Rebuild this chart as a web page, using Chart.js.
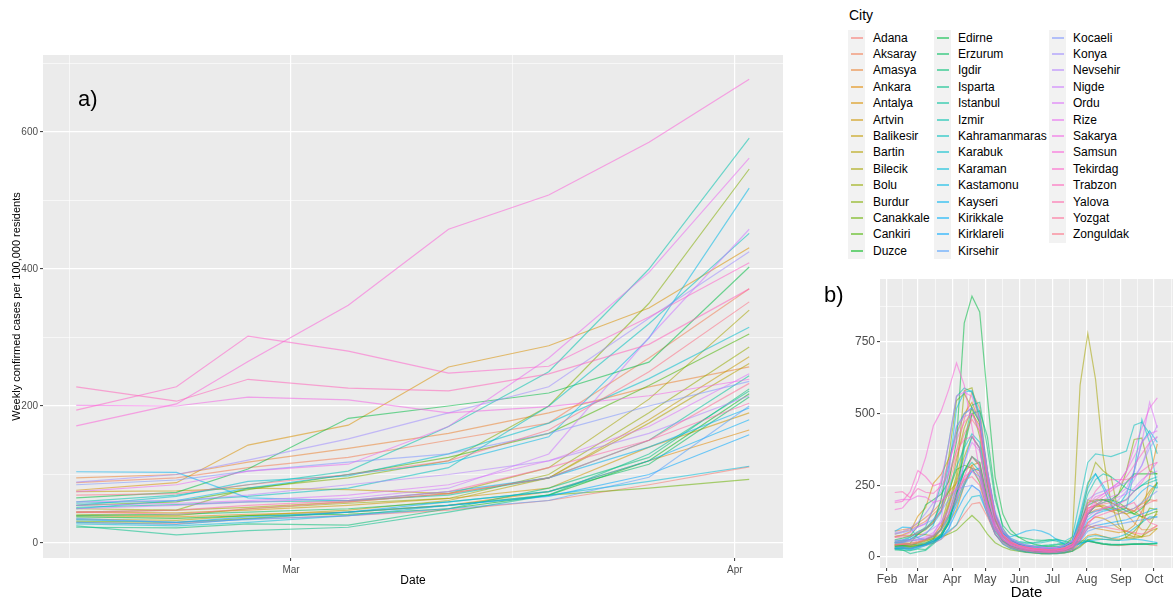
<!DOCTYPE html>
<html>
<head>
<meta charset="utf-8">
<script src="https://cdn.jsdelivr.net/npm/chart.js@4.4.0/dist/chart.umd.min.js"></script>
<style>
  html, body { margin:0; padding:0; background:#ffffff; }
  body { width:1176px; height:598px; position:relative; overflow:hidden; font-family:"Liberation Sans", Arial, sans-serif; }
  canvas { position:absolute; }
  .tag { position:absolute; font-size:22px; color:#000; line-height:1; }
  .lg { position:absolute; font-size:12px; color:#000; white-space:nowrap; }
  .key { position:absolute; background:#F2F2F2; }
  .key span { position:absolute; left:3px; right:2px; top:7px; height:2px; }
</style>
</head>
<body>
<canvas id="ca" width="790" height="598" style="left:0;top:0"></canvas>
<canvas id="cb" width="376" height="345" style="left:800px;top:260px"></canvas>
<div class="tag" style="left:78px;top:88px">a)</div>
<div class="tag" style="left:824px;top:284px">b)</div>
<div class="lg" style="left:849px;top:7px;font-size:14px">City</div>
<div id="legend"></div>
<script>
// ---------------- data ----------------
const cities = ["Adana","Aksaray","Amasya","Ankara","Antalya","Artvin","Balikesir","Bartin","Bilecik","Bolu","Burdur","Canakkale","Cankiri","Duzce","Edirne","Erzurum","Igdir","Isparta","Istanbul","Izmir","Kahramanmaras","Karabuk","Karaman","Kastamonu","Kayseri","Kirikkale","Kirklareli","Kirsehir","Kocaeli","Konya","Nevsehir","Nigde","Ordu","Rize","Sakarya","Samsun","Tekirdag","Trabzon","Yalova","Yozgat","Zonguldak"];

// day of year (Jan 1 = 0): Feb 14, Feb 21, Feb 26, Mar 5, Mar 12, Mar 19, Mar 26, Apr 2
const aDates = [44,51,56,63,70,77,84,91];
const aSeries = [
  [30,28,35,40,48,62,85,111],
  [88,95,110,125,150,175,270,371],
  [95,100,118,138,160,190,228,257],
  [40,38,42,45,55,75,120,165],
  [77,88,143,172,257,288,343,431],
  [45,44,48,55,65,80,140,190],
  [75,76,80,78,72,95,180,272],
  [35,33,40,48,62,95,175,262],
  [50,48,52,60,72,110,210,340],
  [42,40,50,58,65,100,190,286],
  [45,48,80,95,120,200,350,546],
  [32,30,36,45,55,70,80,93],
  [55,60,78,100,125,160,230,305],
  [38,36,40,42,50,70,120,218],
  [66,74,108,182,200,219,264,403],
  [40,42,45,50,60,75,115,213],
  [23,22,28,26,50,80,125,225],
  [25,12,18,23,45,70,130,222],
  [52,56,60,62,70,95,150,244],
  [60,70,85,105,170,250,400,591],
  [58,62,68,80,110,200,320,452],
  [55,68,90,98,130,175,240,315],
  [28,25,30,40,55,70,90,112],
  [50,62,80,100,117,155,299,518],
  [104,103,66,62,75,95,140,197],
  [30,27,35,45,60,75,120,180],
  [34,30,38,45,55,68,100,158],
  [36,30,34,40,50,62,96,200],
  [85,92,105,118,130,160,200,236],
  [89,100,121,152,190,228,328,425],
  [60,62,70,85,100,120,160,215],
  [50,55,60,65,80,130,300,458],
  [55,58,62,70,85,120,170,247],
  [75,85,105,115,170,270,395,562],
  [201,200,213,209,190,199,215,239],
  [171,203,265,347,458,508,585,677],
  [194,228,302,280,248,258,330,409],
  [228,207,239,226,222,247,290,371],
  [45,48,55,62,75,110,150,204],
  [45,42,50,60,72,95,150,233],
  [70,72,85,100,120,165,250,352]
];

// weekly, Feb 7 .. Oct 3 (day of year)
const bDates = [38,45,52,59,66,73,80,87,94,101,108,115,122,129,136,143,150,157,164,171,178,185,192,199,206,213,220,227,234,241,248,255,262,269,276];
const bSeries = [
  [28,30,28,35,40,48,62,85,111,150,185,190,140,80,45,30,22,18,15,14,13,14,16,22,40,55,50,45,42,40,42,45,48,42,40],
  [80,88,95,110,125,150,175,270,371,480,575,520,300,150,90,60,45,35,28,25,22,22,25,35,90,170,180,175,160,150,160,170,185,200,195],
  [90,95,100,118,138,160,190,228,257,300,320,280,170,100,65,45,35,28,22,20,18,20,22,30,70,150,165,170,175,165,150,120,95,95,110],
  [38,40,38,42,45,55,75,120,165,250,320,330,200,110,60,35,25,18,15,12,12,12,14,20,50,75,80,72,65,62,68,70,130,280,395],
  [70,77,88,143,172,257,288,343,431,500,540,470,280,140,80,55,42,35,30,28,26,28,35,50,95,110,100,95,90,85,90,110,160,220,260],
  [42,45,44,48,55,65,80,140,190,260,310,300,180,100,60,40,30,24,20,18,16,18,22,30,60,120,140,135,120,100,90,80,70,75,100],
  [72,75,76,80,78,72,95,180,272,400,500,460,260,130,70,45,35,28,22,18,16,18,22,35,110,200,190,170,160,165,170,160,140,130,150],
  [33,35,33,40,48,62,95,175,262,350,420,380,210,100,55,35,26,20,16,14,13,14,17,25,80,160,175,180,170,160,150,160,190,230,260],
  [45,50,48,52,60,72,110,210,340,450,520,470,300,150,80,50,35,25,20,18,18,22,35,70,600,780,620,350,190,110,80,70,72,90,100],
  [40,42,40,50,58,65,100,190,286,580,590,480,280,130,70,45,35,28,24,22,20,22,28,40,120,250,330,300,280,150,66,65,70,110,160],
  [42,45,48,80,95,120,200,350,546,570,520,420,250,130,75,50,40,32,28,25,24,25,30,45,110,190,200,200,190,220,300,410,415,300,290],
  [30,32,30,36,45,55,70,80,93,120,145,120,80,50,35,25,20,16,14,12,12,13,15,20,35,60,65,62,60,58,70,90,120,170,165],
  [50,55,60,78,100,125,160,230,305,320,310,260,160,90,55,40,32,26,22,20,18,20,24,35,80,150,180,200,200,190,170,150,140,150,160],
  [36,38,36,40,42,50,70,120,218,300,350,320,190,100,60,40,30,25,22,20,20,22,26,40,90,150,180,190,200,220,260,290,290,290,290],
  [60,66,74,108,182,200,219,264,403,816,910,855,558,279,150,95,70,55,45,40,38,35,40,55,120,180,195,200,190,175,160,150,170,200,260],
  [38,40,42,45,50,60,75,115,213,380,500,510,420,220,100,60,45,38,35,35,38,42,45,50,55,60,50,45,42,42,44,45,45,45,48],
  [25,23,22,28,26,50,80,125,225,400,530,540,380,200,110,80,70,65,60,58,60,62,55,45,50,55,50,45,42,42,43,45,44,45,46],
  [28,25,12,18,23,45,70,130,222,300,350,330,200,110,70,55,50,48,50,55,60,55,45,40,48,55,52,48,45,44,45,46,46,47,48],
  [50,52,56,60,62,70,95,150,244,300,330,300,180,100,70,55,45,40,38,40,42,45,50,60,100,150,160,165,170,190,200,230,250,260,270],
  [55,60,70,85,105,170,250,400,560,590,575,480,280,140,85,60,48,40,35,32,30,32,38,55,130,220,270,290,280,260,240,230,250,270,280],
  [55,58,62,68,80,110,200,320,452,500,520,470,290,150,90,65,55,50,48,50,55,60,55,70,200,330,360,355,350,360,370,460,470,430,360],
  [50,55,68,90,98,130,175,240,315,380,430,400,250,130,80,60,50,42,38,35,32,35,40,55,150,260,290,240,180,160,170,300,480,400,240],
  [30,28,25,30,40,55,70,90,112,170,210,215,150,80,45,30,22,17,14,12,11,12,14,20,40,70,75,70,65,70,80,100,120,140,140],
  [48,50,62,80,100,117,155,299,518,575,580,500,300,150,85,60,45,38,32,30,28,30,38,55,140,240,290,250,200,180,220,300,400,440,400],
  [90,104,103,66,62,75,95,140,197,330,420,380,230,120,80,70,80,90,95,90,80,60,45,40,45,55,60,62,60,58,60,62,60,55,50],
  [28,30,27,35,45,60,75,120,180,250,300,310,190,100,60,42,32,26,22,20,18,20,24,32,70,130,150,160,165,170,180,200,230,250,240],
  [32,34,30,38,45,55,68,100,158,210,250,230,150,80,50,35,26,20,17,15,14,15,18,26,60,100,110,115,120,125,130,140,150,160,170],
  [34,36,30,34,40,50,62,96,200,260,300,280,170,90,55,38,28,22,18,16,15,16,20,28,55,90,100,105,110,115,120,125,130,135,140],
  [80,85,92,105,118,130,160,200,236,245,250,230,160,100,70,50,40,34,30,28,26,28,32,40,70,110,120,130,140,150,160,170,190,210,230],
  [85,89,100,121,152,190,228,328,425,500,520,480,300,160,95,65,50,42,38,35,32,34,40,55,120,200,220,230,240,250,260,280,320,380,420],
  [58,60,62,70,85,100,120,160,215,270,310,290,180,100,65,45,35,30,26,24,22,24,28,38,80,140,160,170,180,200,230,270,320,400,460],
  [48,50,55,60,65,80,130,300,458,490,500,440,270,140,80,55,42,35,30,28,26,28,32,45,90,160,180,190,200,210,220,240,270,290,300],
  [52,55,58,62,70,85,120,170,247,330,400,370,220,110,65,45,35,28,24,22,20,22,26,38,80,150,180,200,210,220,240,300,400,540,450],
  [70,75,85,105,115,170,270,395,562,575,560,480,290,150,90,60,48,40,36,34,32,34,40,55,110,180,210,220,240,260,300,350,400,430,440],
  [195,201,200,213,209,190,199,215,239,280,300,270,170,95,60,42,32,26,22,20,18,20,25,38,90,160,200,220,240,260,300,380,450,520,555],
  [165,171,203,265,347,458,508,585,677,600,455,300,180,110,75,50,40,30,25,22,20,22,25,35,60,110,150,170,175,185,200,230,260,300,330],
  [190,194,228,302,280,248,258,330,409,470,500,450,280,140,80,55,42,35,30,28,26,28,32,45,90,150,190,210,230,250,280,320,360,400,420],
  [225,228,207,239,226,222,247,290,371,410,420,380,230,120,70,50,40,34,30,28,26,28,32,45,100,180,230,260,270,270,270,280,300,320,330],
  [42,45,48,55,62,75,110,150,204,280,350,320,190,100,60,42,32,26,22,20,18,20,24,35,70,120,140,150,160,170,180,190,150,120,110],
  [42,45,42,50,60,72,95,150,233,270,280,250,150,80,50,35,27,22,18,16,15,16,20,28,60,100,110,105,100,95,90,85,80,90,110],
  [68,70,72,85,100,120,165,250,352,430,480,440,260,130,75,50,40,33,28,26,24,26,30,42,90,170,180,185,190,180,170,160,175,190,200]
];

// tick definitions (day of year / values)
const aXMajor = [59,90];
const aXLabels = ["Mar","Apr"];
const aXMinor = [43.5,74.5];
const aYMajor = [0,200,400,600];
const aYLabels = ["0","200","400","600"];
const aYMinor = [100,300,500,700];
const bXMajor = [31,59,90,120,151,181,212,243,273];
const bXLabels = ["Feb","Mar","Apr","May","Jun","Jul","Aug","Sep","Oct"];
const bXMinor = [45,74.5,105,135.5,166,196.5,227.5,258,288.5];
const bYMajor = [0,250,500,750];
const bYLabels = ["0","250","500","750"];
const bYMinor = [125,375,625,875];

// ---------------- colours (ggplot2 hue palette) ----------------
function hcl(h, c, l) {
  const hr = h * Math.PI / 180;
  const U = c * Math.cos(hr), V = c * Math.sin(hr);
  const Y = l > 8 ? Math.pow((l + 16) / 116, 3) : l / 903.3;
  const un = 0.1978398, vn = 0.4683363;
  const u = U / (13 * l) + un, v = V / (13 * l) + vn;
  const X = 9 * Y * u / (4 * v);
  const Z = -X / 3 - 5 * Y + 3 * Y / v;
  const lin = [
    3.240479 * X - 1.537150 * Y - 0.498535 * Z,
    -0.969256 * X + 1.875992 * Y + 0.041556 * Z,
    0.055648 * X - 0.204043 * Y + 1.057311 * Z
  ];
  return lin.map(t => {
    const g = t > 0.0031308 ? 1.055 * Math.pow(t, 1 / 2.4) - 0.055 : 12.92 * t;
    return Math.round(255 * Math.min(1, Math.max(0, g)));
  });
}
const ALPHA = 0.55;
const colors = cities.map((_, i) => {
  const rgb = hcl(15 + i * 360 / cities.length, 100, 65);
  return `rgba(${rgb[0]},${rgb[1]},${rgb[2]},${ALPHA})`;
});

// ---------------- legend ----------------
(function buildLegend() {
  const lg = document.getElementById('legend');
  const colStart = [0, 14, 28];
  const keyX = [848, 934, 1049];
  const labX = [873, 958, 1073];
  const top0 = 29.5, step = 16.4;
  cities.forEach((name, i) => {
    const col = i < 14 ? 0 : (i < 28 ? 1 : 2);
    const row = i - colStart[col];
    const y = Math.round(top0 + row * step);
    const yn = Math.round(top0 + (row + 1) * step);
    const k = document.createElement('div');
    k.className = 'key';
    k.style.left = keyX[col] + 'px';
    k.style.top = y + 'px';
    k.style.width = '17px';
    k.style.height = (yn - y) + 'px';
    const s = document.createElement('span');
    s.style.background = colors[i];
    k.appendChild(s);
    lg.appendChild(k);
    const t = document.createElement('div');
    t.className = 'lg';
    t.style.left = labX[col] + 'px';
    t.style.top = y + 'px';
    t.style.lineHeight = (yn - y) + 'px';
    t.textContent = name;
    lg.appendChild(t);
  });
})();

// ---------------- charts ----------------
const FONT = '"Liberation Sans", Arial, sans-serif';
const panelBg = {
  id: 'panelBg',
  beforeDraw(chart) {
    const { ctx, chartArea: a } = chart;
    ctx.save();
    ctx.fillStyle = '#EBEBEB';
    ctx.fillRect(a.left, a.top, a.right - a.left, a.bottom - a.top);
    ctx.restore();
  }
};

function axis(cfg) {
  const all = cfg.major.concat(cfg.minor).sort((p, q) => p - q);
  const isMajor = c => c && c.tick && cfg.major.indexOf(c.tick.value) >= 0;
  return {
    type: 'linear',
    min: cfg.min, max: cfg.max,
    afterBuildTicks: s => { s.ticks = all.map(v => ({ value: v })); },
    afterFit: s => { if (cfg.horizontal) s.height = cfg.size; else s.width = cfg.size; },
    ticks: {
      autoSkip: false, maxRotation: 0, minRotation: 0, padding: cfg.pad,
      color: '#4D4D4D', font: { family: FONT, size: cfg.fs },
      callback: v => { const k = cfg.major.indexOf(v); return k < 0 ? '' : cfg.labels[k]; }
    },
    grid: {
      color: '#FFFFFF',
      lineWidth: c => isMajor(c) ? 1.2 : 0.6,
      drawTicks: true, tickLength: 3, tickWidth: 1,
      tickColor: c => isMajor(c) ? '#333333' : 'rgba(0,0,0,0)'
    },
    border: { display: false },
    title: cfg.title ? {
      display: true, text: cfg.title, color: '#000000',
      font: { family: FONT, size: cfg.tfs }, padding: cfg.tpad
    } : { display: false }
  };
}

function datasets(dates, series) {
  return series.map((vals, i) => ({
    label: cities[i],
    data: dates.map((d, j) => ({ x: d, y: vals[j] })),
    borderColor: colors[i],
    borderWidth: 1.2,
    pointRadius: 0,
    fill: false,
    tension: 0,
    order: -i
  }));
}

function baseOptions(padding, xs, ys) {
  return {
    responsive: false, animation: false, devicePixelRatio: 1, events: [],
    layout: { padding: padding },
    plugins: { legend: { display: false }, tooltip: { enabled: false } },
    scales: { x: xs, y: ys }
  };
}

new Chart(document.getElementById('ca'), {
  type: 'line',
  data: { datasets: datasets(aDates, aSeries) },
  options: baseOptions(
    { top: 55, right: 7, bottom: 0, left: 0 },
    axis({ horizontal: true, min: 41.68, max: 93.36, major: aXMajor, labels: aXLabels, minor: aXMinor,
           size: 40, pad: 3, fs: 10, title: 'Date', tfs: 12, tpad: { top: 0, bottom: 10 } }),
    axis({ horizontal: false, min: -21.9, max: 712.4, major: aYMajor, labels: aYLabels, minor: aYMinor,
           size: 43, pad: 2, fs: 10, title: 'Weekly confirmed cases per 100,000 residents', tfs: 11, tpad: { top: 10, bottom: 0 } })
  ),
  plugins: [panelBg]
});

new Chart(document.getElementById('cb'), {
  type: 'line',
  data: { datasets: datasets(bDates, bSeries) },
  options: baseOptions(
    { top: 19, right: 3, bottom: 0, left: 0 },
    axis({ horizontal: true, min: 24.65, max: 290.2, major: bXMajor, labels: bXLabels, minor: bXMinor,
           size: 37, pad: 1, fs: 12, title: 'Date', tfs: 15, tpad: { top: 0, bottom: 3 } }),
    axis({ horizontal: false, min: -38.4, max: 970, major: bYMajor, labels: bYLabels, minor: bYMinor,
           size: 80, pad: 2, fs: 12 })
  ),
  plugins: [panelBg]
});
</script>
</body>
</html>
